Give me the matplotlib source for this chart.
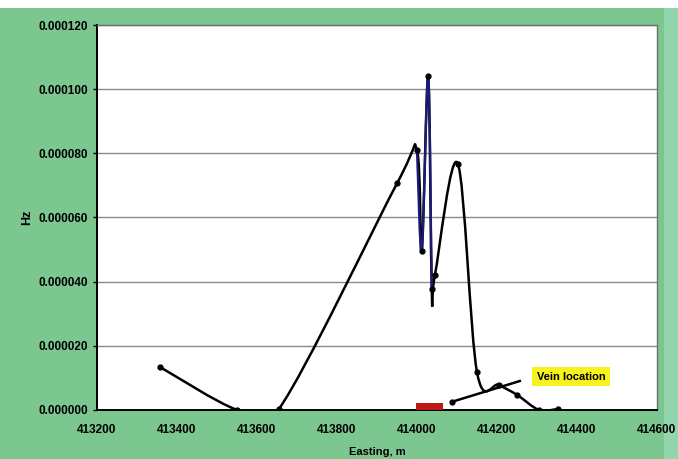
"""
Magnetic profile across the vein, smoothed line like the Excel original.
"""

import matplotlib.pyplot as plt
import numpy as np
from matplotlib.path import Path
from matplotlib.patches import PathPatch, Rectangle

# profile readings
easting = [413357, 413550, 413655, 413950, 414000, 414012, 414028, 414037,
           414045, 414102, 414150, 414205, 414250, 414305, 414353]
field = [13.4e-6, 0.0, 0.3e-6, 70.6e-6, 80.9e-6, 49.5e-6, 104.2e-6, 37.6e-6,
         42.2e-6, 76.8e-6, 11.8e-6, 7.8e-6, 4.7e-6, 0.0, 0.3e-6]
# indices of the spike drawn in blue
spike = (4, 8)

# vein position and annotation pointer
vein_start, vein_end, vein_height = 413998, 414065, 2.0e-6
pointer_x = [414087, 414257]
pointer_y = [2.5e-6, 9.0e-6]
label_x, label_y = 414385, 10.3e-6

x_ticks = [413200, 413400, 413600, 413800, 414000, 414200, 414400, 414600]
y_ticks = [0, 20e-6, 40e-6, 60e-6, 80e-6, 100e-6, 120e-6]


def smooth_path(xs, ys):
    """Bezier path through the points (Catmull-Rom style, as Excel smooths)."""
    pts = np.column_stack([xs, ys]).astype(float)
    n = len(pts)
    verts = [pts[0]]
    codes = [Path.MOVETO]
    for i in range(n - 1):
        p0 = pts[i - 1] if i > 0 else pts[i]
        p1 = pts[i]
        p2 = pts[i + 1]
        p3 = pts[i + 2] if i + 2 < n else pts[i + 1]
        verts += [p1 + (p2 - p0) / 6, p2 - (p3 - p1) / 6, p2]
        codes += [Path.CURVE4] * 3
    return Path(verts, codes)


plt.rcParams["font.family"] = ["Liberation Sans", "DejaVu Sans"]
plt.rcParams["font.weight"] = "bold"

fig = plt.figure(figsize=(6.78, 4.59), dpi=100, facecolor="#7cc690")
fig.patches.append(Rectangle((0, 0.982), 1, 0.02, transform=fig.transFigure,
                             facecolor="white", edgecolor="none", zorder=-1))
fig.patches.append(Rectangle((0.98, 0), 0.03, 0.982, transform=fig.transFigure,
                             facecolor="#92d5ad", edgecolor="none", zorder=-1))
ax = fig.add_axes([0.143, 0.107, 0.826, 0.8385])
ax.set_facecolor("white")

# whole profile in black, spike overlaid in navy
ax.add_patch(PathPatch(smooth_path(easting, field), facecolor="none",
                       edgecolor="black", lw=1.8, zorder=3))
a, b = spike
ax.add_patch(PathPatch(smooth_path(easting[a:b], field[a:b]), facecolor="none",
                       edgecolor="#1c1c78", lw=1.6, zorder=4))
ax.plot(easting, field, ls="none", marker="o", ms=3.5, color="black", zorder=5)

# vein marker and label
ax.add_patch(Rectangle((vein_start, 0), vein_end - vein_start, vein_height,
                       facecolor="#c01818", edgecolor="none", zorder=6,
                       clip_on=False))
ax.plot(pointer_x, pointer_y, color="black", lw=1.8, marker="o", ms=3.5,
        markevery=[0], zorder=6)
ax.text(label_x, label_y, "Vein location", fontsize=8, fontweight="bold",
        ha="center", va="center", zorder=7,
        bbox=dict(boxstyle="square,pad=0.4", facecolor="#f6f21e",
                  edgecolor="none"))

ax.set_xlim(x_ticks[0], x_ticks[-1])
ax.set_ylim(y_ticks[0], y_ticks[-1])
ax.set_xticks(x_ticks)
ax.set_yticks(y_ticks)
ax.set_yticklabels([f"{v:.6f}" for v in y_ticks])
ax.tick_params(axis="both", labelsize=8.5, length=3, width=1, direction="out")
ax.tick_params(axis="x", length=0, pad=10)
ax.grid(axis="y", color="#8a8a8a", lw=1)
ax.set_axisbelow(True)

for side in ("top", "right"):
    ax.spines[side].set_color("#6f6f6f")
    ax.spines[side].set_linewidth(1)
for side in ("left", "bottom"):
    ax.spines[side].set_color("black")
    ax.spines[side].set_linewidth(1.4)

ax.set_xlabel("Easting, m", fontsize=8, fontweight="bold", labelpad=8)
ax.set_ylabel("Hz", fontsize=9, fontweight="bold", labelpad=4)

fig.savefig("out.png", dpi=100, facecolor=fig.get_facecolor())
